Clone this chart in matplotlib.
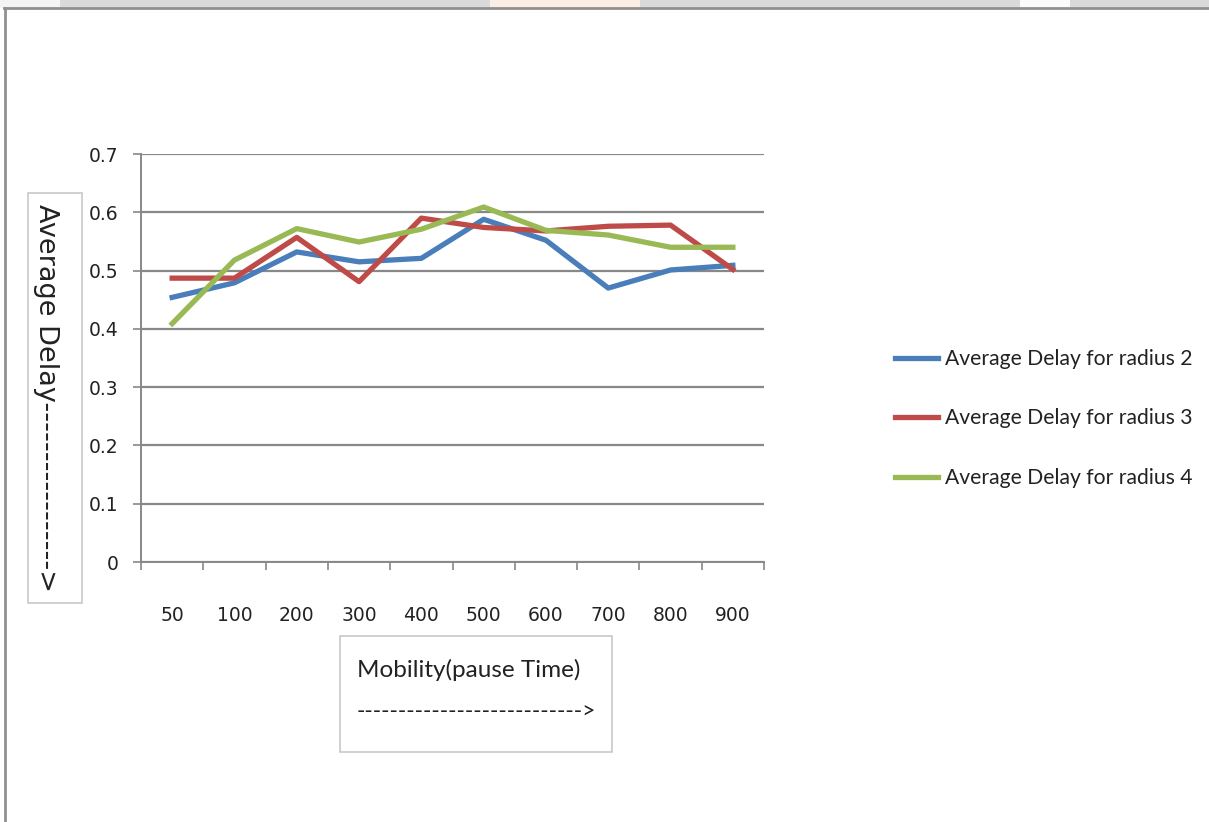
import matplotlib.pyplot as plt
from matplotlib.patches import Rectangle

pause_time = ['50', '100', '200', '300', '400', '500', '600', '700', '800', '900']
delay_r2 = [0.454, 0.479, 0.532, 0.515, 0.521, 0.588, 0.552, 0.470, 0.501, 0.509]
delay_r3 = [0.487, 0.487, 0.557, 0.481, 0.590, 0.574, 0.568, 0.576, 0.578, 0.502]
delay_r4 = [0.409, 0.518, 0.572, 0.549, 0.571, 0.609, 0.569, 0.561, 0.540, 0.540]
series_names = ['Average Delay for radius 2', 'Average Delay for radius 3',
                'Average Delay for radius 4']
y_ticks = [0, 0.1, 0.2, 0.3, 0.4, 0.5, 0.6, 0.7]

W, H = 1209, 822
fig = plt.figure(figsize=(W / 100, H / 100), dpi=100)

# pixel-space layer for the frame and the title boxes
bg = fig.add_axes([0, 0, 1, 1], zorder=0)
bg.set_xlim(0, W)
bg.set_ylim(H, 0)
bg.axis('off')
bg.add_patch(Rectangle((0, 0), W, 8, facecolor='#dadada', edgecolor='none'))
bg.add_patch(Rectangle((0, 0), 60, 8, facecolor='#f4f4f4', edgecolor='none'))
bg.add_patch(Rectangle((490, 0), 150, 8, facecolor='#fbeee4', edgecolor='none'))
bg.add_patch(Rectangle((1020, 0), 50, 8, facecolor='#fafafa', edgecolor='none'))
bg.plot([4, W], [8.5, 8.5], color='#909090', lw=2)
bg.plot([4.5, 4.5], [8, H], color='#909090', lw=2)

# axis title boxes
bg.add_patch(Rectangle((28, 193), 54, 410, facecolor='white', edgecolor='#c8c8c8', lw=1.2))
bg.text(46, 204, 'Average Delay----------------->', rotation=-90, ha='center', va='top',
        fontsize=19.5, family='DejaVu Sans', color='#222222')
bg.add_patch(Rectangle((340, 636), 272, 116, facecolor='white', edgecolor='#c8c8c8', lw=1.2))
bg.text(357, 670, 'Mobility(pause Time)', ha='left', va='center',
        fontsize=17.5, family='Lato', color='#222222')
bg.text(357, 712, '--------------------------->', ha='left', va='center',
        fontsize=16.5, family='Lato', color='#222222')

ax = fig.add_axes([141 / W, 1 - 562 / H, 623 / W, 408 / H], zorder=1)
ax.patch.set_alpha(0)
x = range(len(pause_time))
ax.plot(x, delay_r2, color='#4a7ebb', lw=3.8, label=series_names[0])
ax.plot(x, delay_r3, color='#be4b48', lw=3.8, label=series_names[1])
ax.plot(x, delay_r4, color='#98b954', lw=3.8, label=series_names[2])

ax.set_xlim(-0.5, len(pause_time) - 0.5)
ax.set_ylim(0, 0.7)
ax.set_yticks(y_ticks)
ax.set_yticklabels(['0' if t == 0 else f'{t:.1f}' for t in y_ticks])
ax.set_xticks([i - 0.5 for i in range(len(pause_time) + 1)])
ax.set_xticklabels([])
ax.set_xticks(list(x), minor=True)
ax.set_xticklabels(pause_time, minor=True)
ax.tick_params(axis='x', which='major', length=5.8, width=1.2, color='#888888')
ax.tick_params(axis='x', which='minor', length=0, pad=32, labelsize=13.5)
ax.tick_params(axis='y', length=5.8, width=1.2, color='#888888', pad=10.5, labelsize=13.5)
for lbl in ax.get_xticklabels(minor=True) + ax.get_yticklabels():
    lbl.set_color('#222222')
ax.grid(axis='y', color='#888888', lw=1.6)
ax.set_axisbelow(True)
for side in ['top', 'right']:
    ax.spines[side].set_visible(False)
for side in ['left', 'bottom']:
    ax.spines[side].set_color('#888888')
    ax.spines[side].set_linewidth(1.4)

leg = ax.legend(loc='upper left', bbox_to_anchor=(895 / W, 1 - 349 / H),
                bbox_transform=fig.transFigure, frameon=False, borderpad=0,
                borderaxespad=0, handlelength=2.05, handletextpad=0.33,
                labelspacing=1.87, prop={'family': 'Lato', 'size': 15.2})
for t in leg.get_texts():
    t.set_color('#222222')

fig.savefig('out.png', dpi=100)
